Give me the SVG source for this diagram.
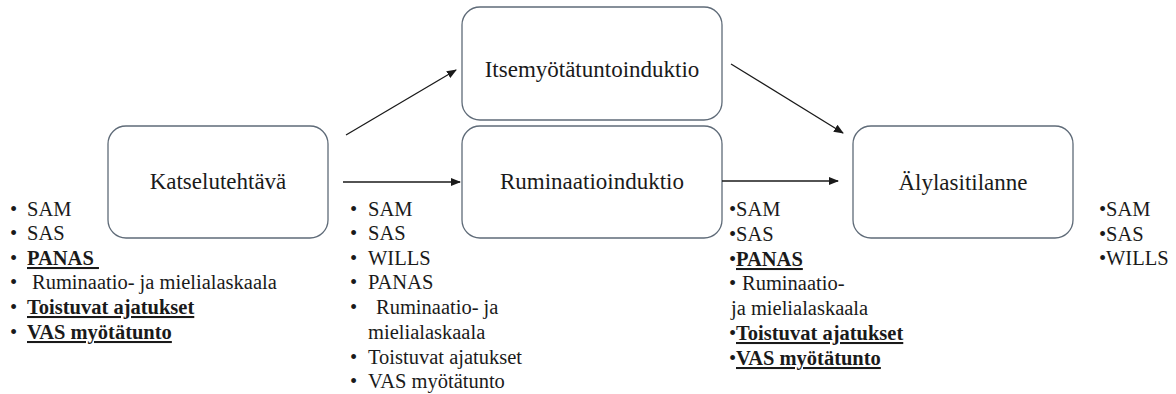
<svg xmlns="http://www.w3.org/2000/svg" width="1176" height="394" viewBox="0 0 1176 394">
<style>
.box{fill:#fff;stroke:#5f6b78;stroke-width:1.3}
.b{font-weight:bold;text-decoration:underline}
.con{stroke:#1a1a1a;stroke-width:1.3;fill:none}
</style>
<defs>
<marker id="ah" viewBox="0 0 10 10" refX="9" refY="5" markerWidth="10" markerHeight="10" markerUnits="userSpaceOnUse" orient="auto">
<path d="M0,1 L10,5 L0,9 z" fill="#1a1a1a"/>
</marker>
</defs>
<rect width="1176" height="394" fill="#fff"/>
<g id="n-katselu">
<rect class="box" x="108" y="126" width="220" height="112" rx="18"/>
<text x="218" y="189" font-family="Liberation Serif" font-size="23" fill="#1a1a1a" text-anchor="middle">Katselutehtävä</text>
</g>
<g id="n-itse">
<rect class="box" x="462" y="7" width="260" height="113" rx="18"/>
<text x="592" y="77" font-family="Liberation Serif" font-size="23" fill="#1a1a1a" text-anchor="middle">Itsemyötätuntoinduktio</text>
</g>
<g id="n-rumin">
<rect class="box" x="462" y="126" width="260" height="112" rx="18"/>
<text x="592" y="189" font-family="Liberation Serif" font-size="23" fill="#1a1a1a" text-anchor="middle">Ruminaatioinduktio</text>
</g>
<g id="n-aly">
<rect class="box" x="853" y="126" width="220" height="112" rx="18"/>
<text x="963" y="190" font-family="Liberation Serif" font-size="23" fill="#1a1a1a" text-anchor="middle">Älylasitilanne</text>
</g>
<g id="connectors">
<line class="con" x1="346" y1="135" x2="456" y2="70" marker-end="url(#ah)"/>
<line class="con" x1="343" y1="182" x2="460" y2="182" marker-end="url(#ah)"/>
<line class="con" x1="731" y1="64" x2="843" y2="133" marker-end="url(#ah)"/>
<line class="con" x1="722" y1="181" x2="838" y2="181" marker-end="url(#ah)"/>
</g>
<g id="list-left" font-family="Liberation Serif" font-size="20.5" fill="#1a1a1a">
<text x="10" y="216">•</text><text x="27" y="216">SAM</text>
<text x="10" y="240">•</text><text x="27" y="240">SAS</text>
<text x="10" y="265">•</text><text x="27" y="265" class="b" xml:space="preserve">PANAS </text>
<text x="10" y="289">•</text><text x="32" y="289">Ruminaatio- ja mielialaskaala</text>
<text x="10" y="314">•</text><text x="27" y="314" class="b">Toistuvat ajatukset</text>
<text x="10" y="339">•</text><text x="27" y="339" class="b">VAS myötätunto</text>
</g>
<g id="list-mid" font-family="Liberation Serif" font-size="20.5" fill="#1a1a1a">
<text x="350" y="216">•</text><text x="368" y="216">SAM</text>
<text x="350" y="240">•</text><text x="368" y="240">SAS</text>
<text x="350" y="265">•</text><text x="368" y="265">WILLS</text>
<text x="350" y="289">•</text><text x="368" y="289">PANAS</text>
<text x="350" y="314">•</text><text x="376" y="314">Ruminaatio- ja</text>
<text x="368" y="339">mielialaskaala</text>
<text x="350" y="364">•</text><text x="368" y="364">Toistuvat ajatukset</text>
<text x="350" y="388">•</text><text x="368" y="388">VAS myötätunto</text>
</g>
<g id="list-right" font-family="Liberation Serif" font-size="20.5" fill="#1a1a1a">
<text x="729" y="216">•</text><text x="736" y="216">SAM</text>
<text x="729" y="241">•</text><text x="736" y="241">SAS</text>
<text x="729" y="266">•</text><text x="736" y="266" class="b">PANAS</text>
<text x="729" y="290">•</text><text x="742" y="290">Ruminaatio-</text>
<text x="731" y="315">ja mielialaskaala</text>
<text x="729" y="340">•</text><text x="736" y="340" class="b">Toistuvat ajatukset</text>
<text x="729" y="365">•</text><text x="736" y="365" class="b">VAS myötätunto</text>
</g>
<g id="list-far" font-family="Liberation Serif" font-size="20.5" fill="#1a1a1a">
<text x="1099" y="216">•</text><text x="1106" y="216">SAM</text>
<text x="1099" y="241">•</text><text x="1106" y="241">SAS</text>
<text x="1099" y="265">•</text><text x="1106" y="265">WILLS</text>
</g>
</svg>
